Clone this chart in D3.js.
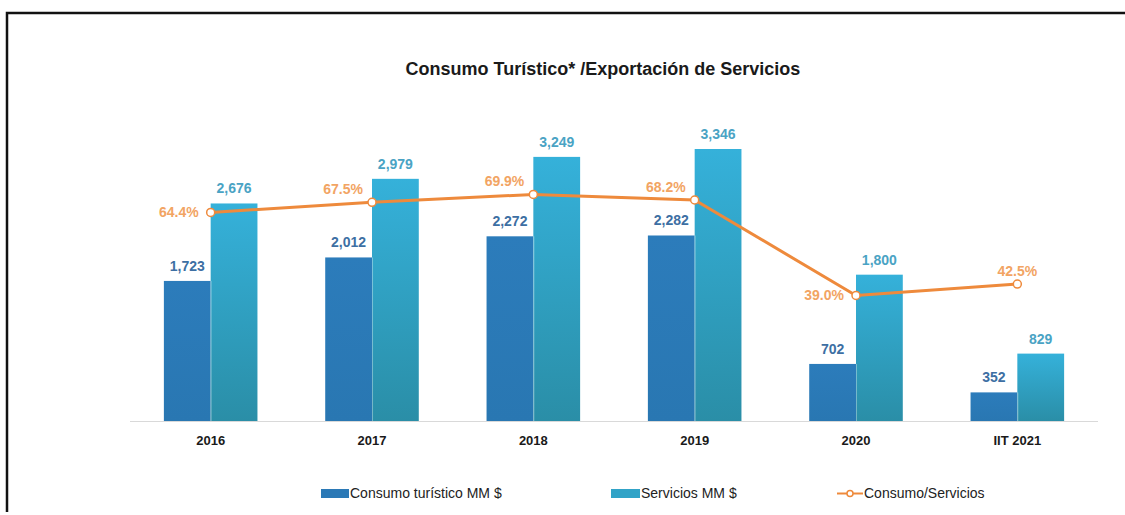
<!DOCTYPE html>
<html>
<head>
<meta charset="utf-8">
<script src="https://cdn.jsdelivr.net/npm/d3@7"></script>
<style>
  body { margin: 0; background: #fff; }
  svg { display: block; font-family: "Liberation Sans", Arial, sans-serif; }
</style>
</head>
<body>
<svg id="chart" width="1125" height="515"></svg>
<script>
// Consumo turístico vs exportación de servicios, con el ratio en línea.
const years = ["2016", "2017", "2018", "2019", "2020", "IIT 2021"];
const consumo = [1723, 2012, 2272, 2282, 702, 352];
const servicios = [2676, 2979, 3249, 3346, 1800, 829];
const ratio = [64.4, 67.5, 69.9, 68.2, 39.0, 42.5];
// where each % label sits relative to its point
const ratioLabelPos = ["left", "above-left", "above-left", "above-left", "left", "above"];

const svg = d3.select("#chart");
const baseY = 421;

// frame (top + left edges only, like the clipped original)
svg.append("path")
  .attr("d", "M7 512 V13 H1125")
  .attr("fill", "none").attr("stroke", "#111").attr("stroke-width", 2.5);

svg.append("text")
  .attr("x", 603).attr("y", 75)
  .attr("text-anchor", "middle")
  .attr("font-size", 18).attr("font-weight", "bold").attr("fill", "#1a1a1a")
  .text("Consumo Turístico* /Exportación de Servicios");

const x = d3.scaleBand().domain(years).range([130, 1098]).paddingInner(0.42).paddingOuter(0.21);
const sub = d3.scaleBand().domain(["c", "s"]).range([0, x.bandwidth()]);
const y = d3.scaleLinear().domain([0, 3346]).range([baseY, 149]);
const yr = d3.scaleLinear().domain([0, 100]).range([baseY + 2, baseY + 2 - 327]);

const defs = svg.append("defs");
const g1 = defs.append("linearGradient").attr("id", "gServ").attr("x1", 0).attr("x2", 0).attr("y1", 0).attr("y2", 1);
g1.append("stop").attr("offset", "0%").attr("stop-color", "#35b1da");
g1.append("stop").attr("offset", "100%").attr("stop-color", "#2a8ea7");
const g2 = defs.append("linearGradient").attr("id", "gCons").attr("x1", 0).attr("x2", 0).attr("y1", 0).attr("y2", 1);
g2.append("stop").attr("offset", "0%").attr("stop-color", "#2c7cbb");
g2.append("stop").attr("offset", "100%").attr("stop-color", "#2977b2");

// baseline
svg.append("line")
  .attr("x1", 130).attr("x2", 1098).attr("y1", baseY + 0.5).attr("y2", baseY + 0.5)
  .attr("stroke", "#d9d9d9").attr("stroke-width", 1);

const groups = svg.selectAll(".yr").data(years).enter().append("g")
  .attr("class", "yr")
  .attr("transform", d => `translate(${x(d)},0)`);

groups.append("rect")
  .attr("x", sub("c")).attr("width", sub.bandwidth())
  .attr("y", (d, i) => y(consumo[i])).attr("height", (d, i) => baseY - y(consumo[i]))
  .attr("fill", "url(#gCons)");
groups.append("rect")
  .attr("x", sub("s")).attr("width", sub.bandwidth())
  .attr("y", (d, i) => y(servicios[i])).attr("height", (d, i) => baseY - y(servicios[i]))
  .attr("fill", "url(#gServ)");
groups.append("line")
  .attr("x1", sub("s") + 0.5).attr("x2", sub("s") + 0.5)
  .attr("y1", (d, i) => y(Math.min(consumo[i], servicios[i]))).attr("y2", baseY)
  .attr("stroke", "#ffffff").attr("stroke-opacity", 0.35);

const fmt = d3.format(",");
groups.append("text")
  .attr("x", sub("c") + sub.bandwidth() / 2)
  .attr("y", (d, i) => y(consumo[i]) - 10)
  .attr("text-anchor", "middle").attr("font-size", 14).attr("font-weight", "bold")
  .attr("fill", "#3d6fa3")
  .text((d, i) => fmt(consumo[i]));
groups.append("text")
  .attr("x", sub("s") + sub.bandwidth() / 2)
  .attr("y", (d, i) => y(servicios[i]) - 10)
  .attr("text-anchor", "middle").attr("font-size", 14).attr("font-weight", "bold")
  .attr("fill", "#4aa3c4")
  .text((d, i) => fmt(servicios[i]));

// x axis labels
const xAxis = svg.append("g")
  .attr("transform", `translate(0,${baseY})`)
  .call(d3.axisBottom(x).tickSize(0).tickPadding(15));
xAxis.select(".domain").remove();
xAxis.selectAll("text")
  .attr("font-family", "Liberation Sans, Arial, sans-serif")
  .attr("font-size", 13).attr("font-weight", "bold").attr("fill", "#1a1a1a");

// ratio line
const cx = d => x(d) + x.bandwidth() / 2;
const line = d3.line().x((d, i) => cx(years[i])).y(d => yr(d));
svg.append("path")
  .datum(ratio)
  .attr("d", line)
  .attr("fill", "none").attr("stroke", "#ee8a3c").attr("stroke-width", 3);
svg.selectAll(".pt").data(ratio).enter().append("circle")
  .attr("cx", (d, i) => cx(years[i])).attr("cy", d => yr(d))
  .attr("r", 4).attr("fill", "#fff").attr("stroke", "#ee8a3c").attr("stroke-width", 1.5);

svg.selectAll(".pl").data(ratio).enter().append("text")
  .attr("x", (d, i) => {
    const p = ratioLabelPos[i];
    return p === "above" ? cx(years[i]) : cx(years[i]) - (p === "left" ? 12 : 9);
  })
  .attr("y", (d, i) => {
    const p = ratioLabelPos[i];
    return p === "left" ? yr(d) + 5 : yr(d) - 8;
  })
  .attr("text-anchor", (d, i) => ratioLabelPos[i] === "above" ? "middle" : "end")
  .attr("font-size", 14).attr("font-weight", "bold").attr("fill", "#f2a463")
  .text(d => d.toFixed(1) + "%");

// legend
const legend = svg.append("g").attr("transform", "translate(0,493)");
legend.append("rect").attr("x", 321).attr("y", -4).attr("width", 28).attr("height", 9).attr("fill", "#2b79b6");
legend.append("text").attr("x", 350).attr("y", 5).attr("font-size", 14).attr("fill", "#222").text("Consumo turístico MM $");
legend.append("rect").attr("x", 611).attr("y", -4).attr("width", 29).attr("height", 9).attr("fill", "#31a3c7");
legend.append("text").attr("x", 641).attr("y", 5).attr("font-size", 14).attr("fill", "#222").text("Servicios MM $");
legend.append("line").attr("x1", 837).attr("x2", 863).attr("y1", 0.5).attr("y2", 0.5).attr("stroke", "#ee8a3c").attr("stroke-width", 2);
legend.append("circle").attr("cx", 850).attr("cy", 0.5).attr("r", 3).attr("fill", "#fff").attr("stroke", "#ee8a3c").attr("stroke-width", 1.5);
legend.append("text").attr("x", 864).attr("y", 5).attr("font-size", 14).attr("fill", "#222").text("Consumo/Servicios");
</script>
</body>
</html>
